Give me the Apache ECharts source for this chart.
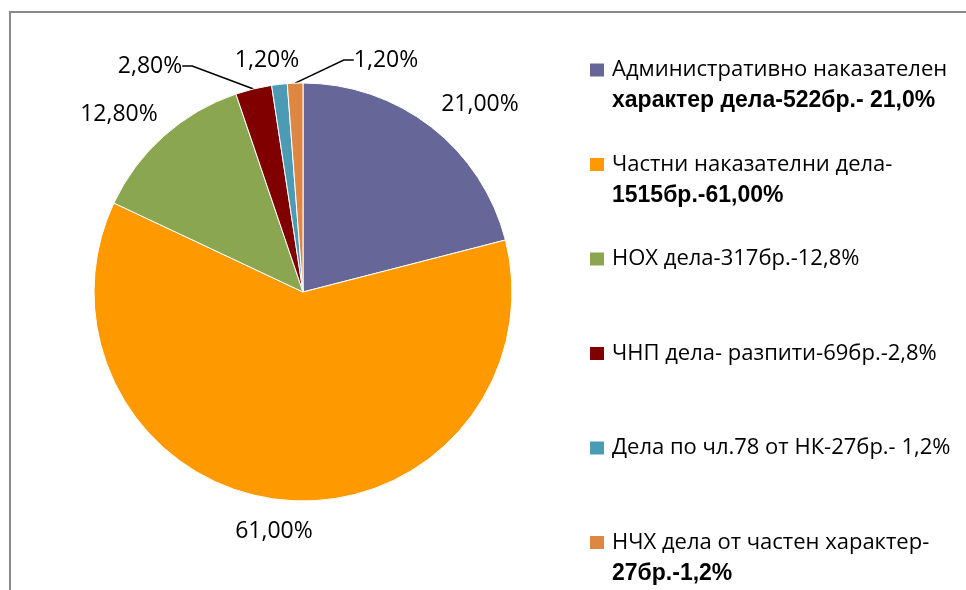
<!DOCTYPE html>
<html>
<head>
<meta charset="utf-8">
<script src="https://cdn.jsdelivr.net/npm/echarts@6/dist/echarts.min.js"></script>
<style>
html, body { margin: 0; padding: 0; background: #fff; }
#chart { width: 966px; height: 590px; }
</style>
</head>
<body>
<div id="chart"></div>
<script>
// share of cases, %
const values = [21.0, 61.0, 12.8, 2.8, 1.2, 1.2];
const legendNormal = [
	'Административно наказателен',
	'Частни наказателни дела-',
	'НОХ дела-317бр.-12,8%',
	'ЧНП дела- разпити-69бр.-2,8%',
	'Дела по чл.78 от НК-27бр.- 1,2%',
	'НЧХ дела от частен характер-'
];
const legendBold = [
	'характер дела-522бр.- 21,0%',
	'1515бр.-61,00%',
	'',
	'',
	'',
	'27бр.-1,2%'
];
const colors = ['#666699', '#FF9900', '#8BA650', '#800000', '#4A9BB3', '#DD8743'];
const names = legendNormal.map((n, i) => legendBold[i] ? n + ' ' + legendBold[i] : n);

// label anchor positions (centre of text)
const labelPos = [[480, 104], [274, 531], [119, 114], [150, 66], [267, 60], [386, 60]];
const withLine = [false, false, false, true, false, true];

const FONT = '"Open Sans", sans-serif';
const LH = 31;

let myChart = echarts.init(document.getElementById('chart'));
myChart.setOption({
	color: colors,
	animation: false,
	graphic: [{
		type: 'rect',
		shape: { x: 10, y: 12, width: 1200, height: 1200 },
		style: { fill: 'none', stroke: '#8a8a8a', lineWidth: 2 },
		silent: true
	}],
	legend: {
		orient: 'vertical',
		left: 590,
		top: 23.5,
		padding: 0,
		itemGap: 1.5,
		itemWidth: 14,
		itemHeight: 13,
		icon: 'rect',
		itemStyle: { borderWidth: 0 },
		data: names.map((n, i) => ({
			name: n,
			textStyle: { padding: legendBold[i] ? [LH, 0, 0, 3] : [LH, 0, LH, 3] }
		})),
		formatter: function (name) {
			let i = names.indexOf(name);
			let s = '{n|' + legendNormal[i] + '}';
			if (legendBold[i]) s += '\n{b|' + legendBold[i] + '}';
			return s;
		},
		textStyle: {
			fontFamily: FONT,
			fontSize: 22,
			color: '#000',
			lineHeight: LH,
			rich: {
				n: { fontFamily: FONT, fontSize: 22, color: '#000', lineHeight: LH },
				b: { fontFamily: '"Liberation Sans", Arial, sans-serif', fontSize: 23, fontWeight: 'bold', color: '#000', lineHeight: LH }
			}
		}
	},
	series: [{
		type: 'pie',
		center: [303, 292],
		radius: 209,
		startAngle: 90,
		clockwise: true,
		avoidLabelOverlap: false,
		itemStyle: { borderColor: '#fff', borderWidth: 1 },
		label: {
			show: true,
			position: 'outside',
			fontFamily: FONT,
			fontSize: 23,
			color: '#000',
			formatter: p => p.value.toFixed(2).replace('.', ',') + '%'
		},
		labelLine: {
			show: false,
			lineStyle: { color: '#000', width: 1.5 }
		},
		labelLayout: function (params) {
			let p = labelPos[params.dataIndex];
			return { x: p[0], y: p[1], align: 'center', verticalAlign: 'middle', hideOverlap: false };
		},
		data: values.map((v, i) => ({
			name: names[i],
			value: v,
			labelLine: { show: withLine[i], length: 15, length2: 10, lineStyle: { color: '#000', width: 1.5 } }
		}))
	}]
});
</script>
</body>
</html>
